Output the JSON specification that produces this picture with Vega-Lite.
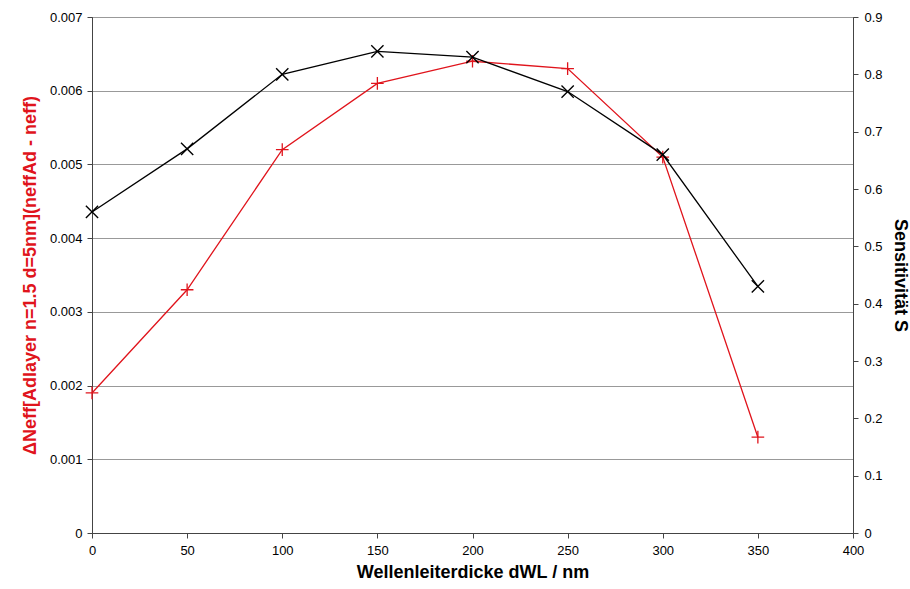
{
  "$schema": "https://vega.github.io/schema/vega-lite/v6.json",
  "width": 761,
  "height": 516,
  "autosize": {"type": "none"},
  "padding": {"left": 92, "top": 17, "right": 57, "bottom": 56},
  "background": "white",
  "config": {
    "font": "Liberation Sans",
    "view": {"stroke": "#444", "strokeWidth": 1},
    "axis": {
      "labelFont": "Liberation Sans",
      "labelFontSize": 13,
      "labelColor": "#000",
      "labelFlush": false,
      "titleFont": "Liberation Sans",
      "titleFontSize": 18,
      "titleFontWeight": "bold",
      "domainColor": "#444",
      "tickColor": "#444",
      "tickSize": 5
    }
  },
  "data": {
    "values": [
      {"d": 0, "dn": 0.0019, "s": 0.56},
      {"d": 50, "dn": 0.0033, "s": 0.67},
      {"d": 100, "dn": 0.0052, "s": 0.80},
      {"d": 150, "dn": 0.0061, "s": 0.84},
      {"d": 200, "dn": 0.0064, "s": 0.83},
      {"d": 250, "dn": 0.0063, "s": 0.77},
      {"d": 300, "dn": 0.0051, "s": 0.66},
      {"d": 350, "dn": 0.0013, "s": 0.43}
    ]
  },
  "encoding": {
    "x": {
      "field": "d",
      "type": "quantitative",
      "scale": {"domain": [0, 400], "nice": false},
      "axis": {
        "values": [0, 50, 100, 150, 200, 250, 300, 350, 400],
        "grid": false,
        "title": "Wellenleiterdicke dWL / nm",
        "labelPadding": 6,
        "titlePadding": 6
      }
    }
  },
  "layer": [
    {
      "layer": [
        {"mark": {"type": "line", "color": "#e0141c", "strokeWidth": 1.3}},
        {
          "mark": {
            "type": "point",
            "shape": "M-1,0L1,0M0,-1L0,1",
            "filled": false,
            "stroke": "#e0141c",
            "strokeWidth": 1.3,
            "size": 160,
            "opacity": 1
          }
        }
      ],
      "encoding": {
        "y": {
          "field": "dn",
          "type": "quantitative",
          "scale": {"domain": [0, 0.007], "nice": false},
          "axis": {
            "values": [0, 0.001, 0.002, 0.003, 0.004, 0.005, 0.006, 0.007],
            "format": "~g",
            "grid": true,
            "gridColor": "#999",
            "gridWidth": 1,
            "orient": "left",
            "title": "ΔNeff[Adlayer n=1.5 d=5nm](neffAd - neff)",
            "titleColor": "#e0141c",
            "titlePadding": 10,
            "labelPadding": 5
          }
        }
      }
    },
    {
      "layer": [
        {"mark": {"type": "line", "color": "#000", "strokeWidth": 1.3}},
        {
          "mark": {
            "type": "point",
            "shape": "M-1,-1L1,1M-1,1L1,-1",
            "filled": false,
            "stroke": "#000",
            "strokeWidth": 1.4,
            "size": 150,
            "opacity": 1
          }
        }
      ],
      "encoding": {
        "y": {
          "field": "s",
          "type": "quantitative",
          "scale": {"domain": [0, 0.9], "nice": false},
          "axis": {
            "values": [0, 0.1, 0.2, 0.3, 0.4, 0.5, 0.6, 0.7, 0.8, 0.9],
            "format": "~g",
            "grid": false,
            "orient": "right",
            "title": "Sensitivität S",
            "titlePadding": 8,
            "labelPadding": 6
          }
        }
      }
    }
  ],
  "resolve": {"scale": {"y": "independent"}}
}
